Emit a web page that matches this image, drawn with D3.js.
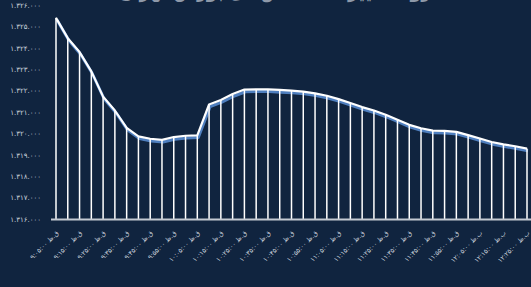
<!DOCTYPE html>
<html>
<head>
<meta charset="utf-8">
<script src="https://cdn.jsdelivr.net/npm/d3@7/dist/d3.min.js"></script>
<style>
  html, body { margin: 0; padding: 0; background: #10243f; }
  svg { display: block; }
  text { font-family: "DejaVu Sans", sans-serif; }
</style>
</head>
<body>
<svg id="chart" width="531" height="287"></svg>
<script>
const times = [
  "9:05","9:10","9:15","9:20","9:25","9:30","9:35","9:40","9:45","9:50",
  "9:55","10:00","10:05","10:10","10:15","10:20","10:25","10:30","10:35","10:40",
  "10:45","10:50","10:55","11:00","11:05","11:10","11:15","11:20","11:25","11:30",
  "11:35","11:40","11:45","11:50","11:55","12:00","12:05","12:10","12:15","12:20","12:25"
];
const values = [
  1325400, 1324450, 1323800, 1322900, 1321720, 1321070, 1320260, 1319860, 1319750, 1319700,
  1319830, 1319890, 1319910, 1321350, 1321560, 1321840, 1322050, 1322060, 1322060, 1322030,
  1322000, 1321950, 1321870, 1321760, 1321600, 1321420, 1321230, 1321070, 1320870, 1320640,
  1320400, 1320240, 1320130, 1320120, 1320070, 1319920, 1319760, 1319600, 1319490, 1319400, 1319290
];
const yTicks = [1316000,1317000,1318000,1319000,1320000,1321000,1322000,1323000,1324000,1325000,1326000];
const titleText = "روند تغییرات شاخص کل بورس تهران";

const fa = s => String(s).replace(/[0-9]/g, d => "۰۱۲۳۴۵۶۷۸۹"[+d]);
const fmtNum = v => fa(d3.format(",")(v).replace(/,/g, "."));
const fmtTime = t => {
  const h = +t.split(":")[0];
  return fa(t + ":00") + (h >= 12 ? " ب.ظ" : " ق.ظ");
};

const svg = d3.select("#chart");
const x = d3.scalePoint().domain(times).range([56, 527]);
const y = d3.scaleLinear().domain([1316000, 1326000]).range([219, 5]);
const data = times.map((t, i) => ({ t, v: values[i] }));

// title (mostly clipped at top, as in the reference)
svg.append("text")
  .attr("x", 275).attr("y", -2)
  .attr("text-anchor", "middle")
  .attr("fill", "#8e99a9")
  .attr("font-size", 17)
  .attr("font-weight", "bold")
  .attr("direction", "rtl")
  .text(titleText);

// y axis
const yAxis = svg.append("g")
  .attr("transform", "translate(42,0)")
  .call(d3.axisLeft(y).tickValues(yTicks).tickSize(0).tickPadding(1).tickFormat(fmtNum));
yAxis.select(".domain").remove();
yAxis.selectAll("text").attr("fill", "#c9d1dc").attr("font-size", 7).attr("direction", "ltr");

// shadow line
const line = d3.line().x(d => x(d.t)).y(d => y(d.v));
svg.append("path")
  .datum(data)
  .attr("d", line)
  .attr("transform", "translate(1,2.2)")
  .attr("fill", "none")
  .attr("stroke", "#4f7fbf")
  .attr("stroke-width", 3)
  .attr("stroke-linejoin", "round");

// vertical drop lines
svg.append("g").selectAll("line")
  .data(data)
  .join("line")
  .attr("x1", d => x(d.t)).attr("x2", d => x(d.t))
  .attr("y1", d => y(d.v)).attr("y2", y(1316000))
  .attr("stroke", "#ffffff")
  .attr("stroke-width", 1.5);

// main line
svg.append("path")
  .datum(data)
  .attr("d", line)
  .attr("fill", "none")
  .attr("stroke", "#ffffff")
  .attr("stroke-width", 2.2)
  .attr("stroke-linejoin", "round");

// baseline
svg.append("line")
  .attr("x1", 51).attr("x2", 531)
  .attr("y1", y(1316000) + 0.5).attr("y2", y(1316000) + 0.5)
  .attr("stroke", "#c3c9d2")
  .attr("stroke-width", 2);

// x axis
const xAxis = svg.append("g")
  .attr("transform", `translate(0,${y(1316000) + 3})`)
  .call(d3.axisBottom(x).tickValues(times.filter((t, i) => i % 2 === 0)).tickSize(0).tickFormat(fmtTime));
xAxis.select(".domain").remove();
xAxis.selectAll("text")
  .attr("fill", "#c9d1dc")
  .attr("font-size", 6.5)
  .attr("direction", "ltr")
  .attr("text-anchor", "end")
  .attr("dy", "0.3em")
  .attr("transform", "translate(-1,8) rotate(-45)");
</script>
</body>
</html>
